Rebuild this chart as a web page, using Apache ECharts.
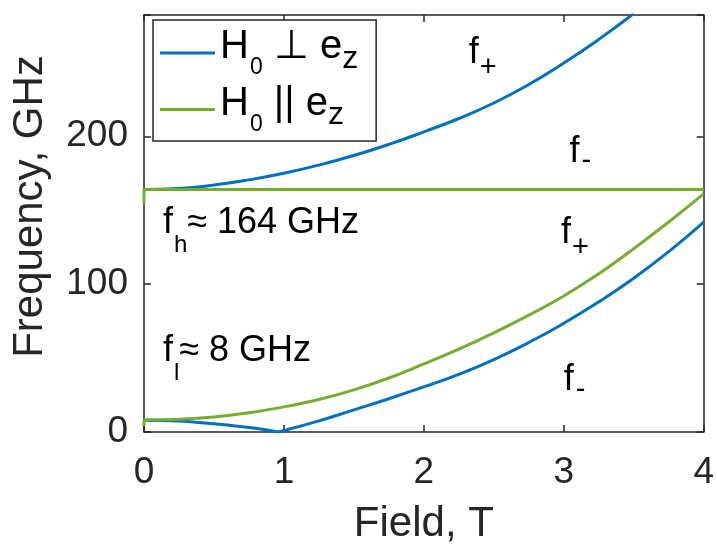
<!DOCTYPE html>
<html lang="en">
<head>
<meta charset="UTF-8">
<title>Frequency vs Field</title>
<script src="https://cdn.jsdelivr.net/npm/echarts@6/dist/echarts.min.js"></script>
<style>
  html, body { margin: 0; padding: 0; background: #fff; }
  #chart { width: 717px; height: 550px; }
</style>
</head>
<body>
<div id="chart"></div>
<script>
// H0 perpendicular to ez, upper branch f+
const fieldUpPerp = [0, 0.25, 0.5, 0.75, 1, 1.25, 1.5, 1.75, 2, 2.25, 2.5, 2.75, 3, 3.25, 3.5];
const freqUpPerp = [164, 164.7, 167, 170.5, 175, 180.5, 187, 194.5, 203, 212, 222.5, 235, 249.5, 265.5, 283];
// H0 perpendicular to ez, lower branch f- (goes soft near 1 T)
const fieldLowPerpA = [0, 0.25, 0.5, 0.75, 0.96];
const freqLowPerpA = [8, 7.5, 5.5, 3, 0];
const fieldLowPerpB = [0.96, 1.25, 1.5, 1.75, 2, 2.25, 2.5, 2.75, 3, 3.25, 3.5, 3.75, 4];
const freqLowPerpB = [0, 7.5, 15, 22.5, 30.5, 39, 49, 60.5, 73.5, 88, 104, 122, 142];
// H0 parallel to ez
const fieldHighPar = [0, 0, 4];
const freqHighPar = [154, 164, 164];
const fieldLowPar = [0, 0, 0.25, 0.5, 0.75, 1, 1.25, 1.5, 1.75, 2, 2.25, 2.5, 2.75, 3, 3.25, 3.5, 3.75, 4];
const freqLowPar = [4, 8, 8.6, 10.2, 13, 17, 22, 28.5, 36.5, 46, 56, 67, 79, 92, 107, 124, 142, 161];

const xTicks = [0, 1, 2, 3, 4];
const yTicks = [0, 100, 200];
const seriesNames = ['H0 ⊥ ez', 'H0 || ez'];

// text labels inside the plot, anchored at the top-left of the text (data units)
const notes = [
  { text: '{m|f}{sp|+}', at: [2.32, 269.5] },
  { text: '{m|f}{sm|-}', at: [3.04, 202.7] },
  { text: '{m|f}{sp|+}', at: [2.98, 148.3] },
  { text: '{m|f}{sm|-}', at: [3.0, 48.3] },
  { text: '{m|f}{sh|h}{m|≈ 164 GHz}', at: [0.135, 155] },
  { text: '{m|f}{sh|l}{m|≈ 8 GHz}', at: [0.135, 68.5] }
];

const FONT = '"Liberation Sans", Arial, Helvetica, sans-serif';
const INK = '#262626';
const BLUE = '#0072BD';
const GREEN = '#77AC30';

function pairs(xs, ys) {
  return xs.map((x, i) => [x, ys[i]]);
}

function curve(name, xs, ys, color, smooth) {
  return {
    name: name,
    type: 'line',
    data: pairs(xs, ys),
    symbol: 'none',
    smooth: smooth,
    clip: true,
    silent: true,
    lineStyle: { color: color, width: 3 },
    itemStyle: { color: color }
  };
}

let chart = echarts.init(document.getElementById('chart'));

let axisLine = { show: true, onZero: false, lineStyle: { color: INK, width: 1.5 } };
let axisTick = { show: true, inside: true, length: 7, lineStyle: { color: INK, width: 1.5 } };

let options = {
  animation: false,
  backgroundColor: '#fff',
  grid: { left: 144, right: 10, top: 15, bottom: 115 },
  xAxis: [
    {
      type: 'value', min: xTicks[0], max: xTicks[xTicks.length - 1], interval: 1,
      name: 'Field, T', nameLocation: 'middle', nameGap: 71,
      nameTextStyle: { fontSize: 42, color: INK, fontFamily: FONT },
      axisLine: axisLine, axisTick: axisTick,
      axisLabel: { fontSize: 37, color: INK, fontFamily: FONT, margin: 22 },
      splitLine: { show: false }
    },
    {
      type: 'value', position: 'top', min: xTicks[0], max: xTicks[xTicks.length - 1], interval: 1,
      axisLine: axisLine, axisTick: axisTick, axisLabel: { show: false }, splitLine: { show: false }
    }
  ],
  yAxis: [
    {
      type: 'value', min: 0, max: 282, interval: 100,
      name: 'Frequency, GHz', nameLocation: 'middle', nameGap: 93,
      nameTextStyle: { fontSize: 42, color: INK, fontFamily: FONT, padding: [0, 0, 0, 34] },
      axisLine: axisLine, axisTick: axisTick,
      axisLabel: {
        fontSize: 37, color: INK, fontFamily: FONT, margin: 16,
        formatter: v => (yTicks.indexOf(v) >= 0 ? String(v) : '')
      },
      splitLine: { show: false }
    },
    {
      type: 'value', position: 'right', min: 0, max: 282, interval: 100,
      axisLine: axisLine, axisTick: axisTick, axisLabel: { show: false }, splitLine: { show: false }
    }
  ],
  legend: {
    data: seriesNames,
    orient: 'vertical',
    left: 153, top: 20,
    icon: 'rect', itemWidth: 55, itemHeight: 3, itemGap: 4,
    backgroundColor: '#fff', borderColor: INK, borderWidth: 1.5, borderRadius: 0,
    padding: [7, 18, 5, 7],
    selectedMode: false,
    formatter: function (name) {
      return name === seriesNames[0] ? '{m|H}{s0|0}{m| ⊥ e}{sz|z}' : '{m|H}{s0|0}{m| || e}{sz|z}';
    },
    textStyle: {
      color: '#000', fontFamily: FONT,
      rich: {
        m: { fontSize: 40, height: 40, verticalAlign: 'top', fontFamily: FONT, color: '#000' },
        s0: { fontSize: 23, height: 22, padding: [30, 0, 0, 1], verticalAlign: 'top', fontFamily: FONT, color: '#000' },
        sz: { fontSize: 32, height: 32, padding: [16, 0, 0, 0], verticalAlign: 'top', fontFamily: FONT, color: '#000' }
      }
    }
  },
  series: [
    curve(seriesNames[0], fieldUpPerp, freqUpPerp, BLUE, 0.5),
    curve(seriesNames[0], fieldLowPerpA, freqLowPerpA, BLUE, 0.4),
    curve(seriesNames[0], fieldLowPerpB, freqLowPerpB, BLUE, 0.5),
    curve(seriesNames[1], fieldHighPar, freqHighPar, GREEN, false),
    curve(seriesNames[1], fieldLowPar, freqLowPar, GREEN, 0.4)
  ]
};

chart.setOption(options);

// place the in-plot notes through the axes
let noteRich = {
  m: { fontSize: 36, height: 40, verticalAlign: 'top', fontFamily: FONT, fill: '#000' },
  sp: { fontSize: 29, height: 28, padding: [21, 0, 0, 1], verticalAlign: 'top', fontFamily: FONT, fill: '#000' },
  sm: { fontSize: 29, height: 28, padding: [15, 0, 0, 2], verticalAlign: 'top', fontFamily: FONT, fill: '#000' },
  sh: { fontSize: 24, height: 22, padding: [32, 0, 0, 1], verticalAlign: 'top', fontFamily: FONT, fill: '#000' }
};
let graphics = notes.map(function (n) {
  let p = chart.convertToPixel({ xAxisIndex: 0, yAxisIndex: 0 }, n.at);
  return {
    type: 'text', x: p[0], y: p[1], silent: true, z: 10,
    style: { text: n.text, rich: noteRich, fill: '#000', align: 'left', verticalAlign: 'top' }
  };
});
chart.setOption({ graphic: graphics });
</script>
</body>
</html>
